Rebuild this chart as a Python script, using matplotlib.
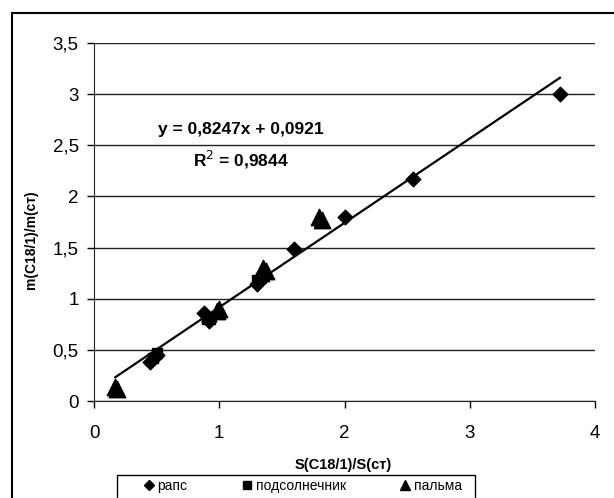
import numpy as np
import matplotlib
matplotlib.use("Agg")
import matplotlib.pyplot as plt
from matplotlib.ticker import FuncFormatter
from matplotlib.patches import Rectangle
from matplotlib.lines import Line2D

plt.rcParams['font.family'] = ['Liberation Sans', 'DejaVu Sans']

# data
raps_x = [0.45, 0.50, 0.88, 0.92, 1.30, 1.60, 2.00, 2.55, 3.72]
raps_y = [0.38, 0.45, 0.86, 0.78, 1.14, 1.49, 1.80, 2.17, 3.00]
podsol_x = [0.47, 0.50, 0.90, 0.93, 1.30, 1.33]
podsol_y = [0.42, 0.47, 0.80, 0.80, 1.18, 1.20]
palma_x = [0.17, 0.18, 0.98, 1.00, 1.33, 1.35, 1.37, 1.80, 1.82]
palma_y = [0.14, 0.12, 0.88, 0.90, 1.25, 1.30, 1.27, 1.80, 1.77]
slope, intercept = 0.8247, 0.0921
labels = ['рапс', 'подсолнечник', 'пальма']

fig = plt.figure(figsize=(6.14, 4.98), dpi=100)
ax = fig.add_axes([94/614, 1-401/498, (595-94)/614, (401-43)/498])

ax.scatter(raps_x, raps_y, marker='D', s=55, color='black', zorder=3)
ax.scatter(podsol_x, podsol_y, marker='s', s=60, color='black', zorder=3)
ax.scatter(palma_x, palma_y, marker='^', s=140, color='black', zorder=3)

# trend line over the data range
allx = raps_x + podsol_x + palma_x
xl = np.array([min(allx), max(allx)])
ax.plot(xl, slope*xl + intercept, color='black', lw=1.6, zorder=2)

ax.text(1.17, 2.65, 'y = 0,8247x + 0,0921', ha='center', va='center',
        fontsize=12.5, fontweight='bold')
ax.text(1.17, 2.36, 'R$^{2}$ = 0,9844', ha='center', va='center',
        fontsize=12.5, fontweight='bold')

ax.set_xlim(0, 4)
ax.set_ylim(0, 3.5)
ax.set_xticks([0, 1, 2, 3, 4])
ax.set_yticks(np.arange(0, 3.51, 0.5))
fmt = FuncFormatter(lambda v, p: ('%g' % v).replace('.', ','))
ax.xaxis.set_major_formatter(fmt)
ax.yaxis.set_major_formatter(fmt)
ax.tick_params(labelsize=13.5, length=5, width=1, colors='black')
ax.tick_params(axis='x', pad=12)
ax.tick_params(axis='y', pad=6)
ax.grid(axis='y', color='#222222', lw=1)
ax.set_axisbelow(True)
for s in ['top', 'right']:
    ax.spines[s].set_visible(False)
for s in ['left', 'bottom']:
    ax.spines[s].set_color('#222222')
ax.set_xlabel('S(C18/1)/S(ст)', fontsize=10.5, fontweight='bold')
ax.set_ylabel('m(C18/1)/m(ст)', fontsize=10, fontweight='bold')
ax.xaxis.set_label_coords(0.497, -0.16)
ax.yaxis.label.set_va('center')
ax.yaxis.set_label_coords(-0.126, 0.45)

# legend: small equal markers, frame drawn separately
handles = [Line2D([], [], ls='none', marker=m, ms=ms, color='black')
           for m, ms in zip(['D', 's', '^'], [5, 6, 7])]
leg = fig.legend(handles, labels, loc='upper left', bbox_to_anchor=(145/614, 1-479/498),
                 ncol=3, fontsize=10, frameon=False, handlelength=0.6,
                 handletextpad=0.3, columnspacing=4.0, borderpad=0, borderaxespad=0)
fig.patches.append(Rectangle((117/614, -0.05), (475-117)/614, 0.05 + 1-475/498,
                             transform=fig.transFigure, fill=False, edgecolor='black', lw=1))

fig.patches.append(Rectangle((12/614, -0.1), 1.2, 1.1 - 13/498, transform=fig.transFigure,
                             fill=False, edgecolor='black', lw=1.5))

fig.savefig('out.png', dpi=100)
